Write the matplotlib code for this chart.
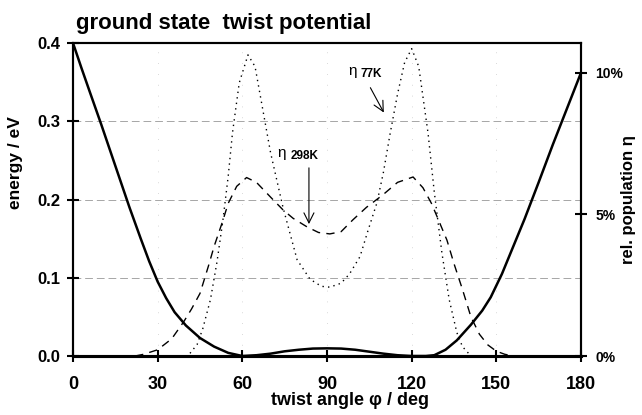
import matplotlib.pyplot as plt
import numpy as np

plt.rcParams['font.family'] = ['Liberation Sans', 'DejaVu Sans']

# ground state potential (eV) vs twist angle (deg)
phi_e = [0, 3, 6, 10, 15, 20, 24, 27, 30, 33, 36, 40, 45, 50, 55, 60, 65, 70, 75,
         80, 85, 90, 95, 100, 105, 110, 115, 120, 125, 128, 132, 136, 141, 145,
         148, 152, 156, 160, 165, 170, 175, 180]
energy = [0.400, 0.368, 0.337, 0.296, 0.243, 0.190, 0.150, 0.121, 0.095, 0.074,
          0.056, 0.039, 0.023, 0.012, 0.004, 0.0, 0.001, 0.003, 0.006, 0.008,
          0.0095, 0.0098, 0.0095, 0.008, 0.0055, 0.003, 0.001, 0.0, 0.0, 0.001,
          0.008, 0.020, 0.040, 0.058, 0.075, 0.105, 0.140, 0.175, 0.222, 0.270,
          0.316, 0.362]

# relative population (%) at 298 K
phi_298 = [22, 25, 30, 35, 39.3, 42, 45, 48, 50, 53, 55, 58, 61.5, 65, 70, 74.4,
           78, 82.9, 87, 91, 95, 99.2, 104, 109.8, 115, 120.5, 124, 127, 129,
           132.5, 135, 138, 141, 144, 147, 150, 153, 156]
pop_298 = [0, 0.06, 0.22, 0.61, 1.22, 1.66, 2.21, 3.18, 3.87, 4.75, 5.39, 5.99,
           6.30, 6.13, 5.61, 5.16, 4.86, 4.56, 4.36, 4.31, 4.39, 4.81, 5.25, 5.69,
           6.13, 6.32, 5.94, 5.39, 4.92, 4.09, 3.26, 2.35, 1.38, 0.77, 0.39, 0.17,
           0.06, 0]

# relative population (%) at 77 K
phi_77 = [36, 40.7, 44, 46, 48.7, 51, 53, 55, 56.5, 58.9, 62, 64.5, 67.3, 70, 74.4,
          79.4, 84, 88, 91, 95, 98, 101.7, 104.5, 107.7, 110, 112.4, 115, 117.5,
          120, 122.5, 125.8, 128, 130.7, 133.3, 136, 138, 141, 145]
pop_77 = [0, 0, 0.41, 0.97, 1.99, 3.31, 4.70, 6.35, 7.87, 9.64, 10.63, 10.22,
          8.67, 7.18, 5.25, 3.40, 2.71, 2.46, 2.43, 2.57, 2.90, 3.51, 4.42, 5.41,
          6.49, 7.87, 9.25, 10.36, 10.85, 10.22, 7.87, 5.80, 3.65, 1.99, 0.83,
          0.33, 0, 0]

fig = plt.figure(figsize=(6.42, 4.15), dpi=100)
ax = fig.add_axes([73/642, 1 - 356/415, 508/642, 313/415])
ax2 = ax.twinx()

ax.set_xlim(0, 180)
ax.set_ylim(0, 0.4)
ax2.set_ylim(0, 11.05)

for y in [0.1, 0.2, 0.3]:
    ax.axhline(y, color='0.65', lw=0.7, ls=(0, (8, 4)), zorder=0)
for x in [30, 60, 90, 120, 150]:
    ax.axvline(x, color='0.8', lw=0.6, ls=(0, (1, 12)), zorder=0)

ax.plot(phi_e, energy, color='black', lw=1.8, zorder=3)
ax2.plot(phi_298, pop_298, color='black', lw=1.0, ls=(0, (6, 4.5)))
ax2.plot(phi_77, pop_77, color='black', lw=1.0, ls=(0, (1, 3)))

ax.set_xticks([0, 30, 60, 90, 120, 150, 180])
ax.set_yticks([0.0, 0.1, 0.2, 0.3, 0.4])
ax.set_yticklabels(['0.0', '0.1', '0.2', '0.3', '0.4'])
ax2.set_yticks([0, 5, 10])
ax2.set_yticklabels(['0%', '5%', '10%'])

ax.tick_params(axis='x', direction='inout', length=9, width=1.5, labelsize=13, pad=10)
ax.tick_params(axis='y', direction='inout', length=8, width=1.5, labelsize=12, pad=5)
ax2.tick_params(axis='y', direction='inout', length=8, width=1.5, labelsize=10, pad=6.5)
for lab in ax.get_xticklabels() + ax.get_yticklabels() + ax2.get_yticklabels():
    lab.set_fontweight('bold')

for a in (ax, ax2):
    for s in a.spines.values():
        s.set_linewidth(1.5)
    a.spines['bottom'].set_linewidth(2.2)

ax.set_xlabel('twist angle \u03c6 / deg', fontsize=13, fontweight='bold')
ax.xaxis.set_label_coords(277/508, -36/313)
ax.set_ylabel('energy / eV', fontsize=12.5, fontweight='bold')
ax.yaxis.set_label_coords(-50/508, 0.617)
ax2.set_ylabel('rel. population \u03b7', fontsize=12, fontweight='bold')
ax2.yaxis.set_label_coords(548/508, 0.5)

fig.text(76/642, 1 - 29/415, 'ground state  twist potential', fontsize=16,
         fontweight='bold', va='baseline')

ax.annotate('', xy=(83.6, 0.165), xytext=(83.6, 0.244),
            arrowprops=dict(arrowstyle='->', lw=0.8, color='black',
                            mutation_scale=18))
ax.text(72.5, 0.259, '\u03b7', fontsize=11, va='center')
ax.text(77, 0.256, '298K', fontsize=8.5, fontweight='bold', va='center')

ax.annotate('', xy=(110.6, 0.308), xytext=(104.9, 0.346),
            arrowprops=dict(arrowstyle='->', lw=0.8, color='black',
                            mutation_scale=18))
ax.text(97.5, 0.364, '\u03b7', fontsize=11, va='center')
ax.text(102, 0.361, '77K', fontsize=8.5, fontweight='bold', va='center')

fig.savefig('out.png', dpi=100)
